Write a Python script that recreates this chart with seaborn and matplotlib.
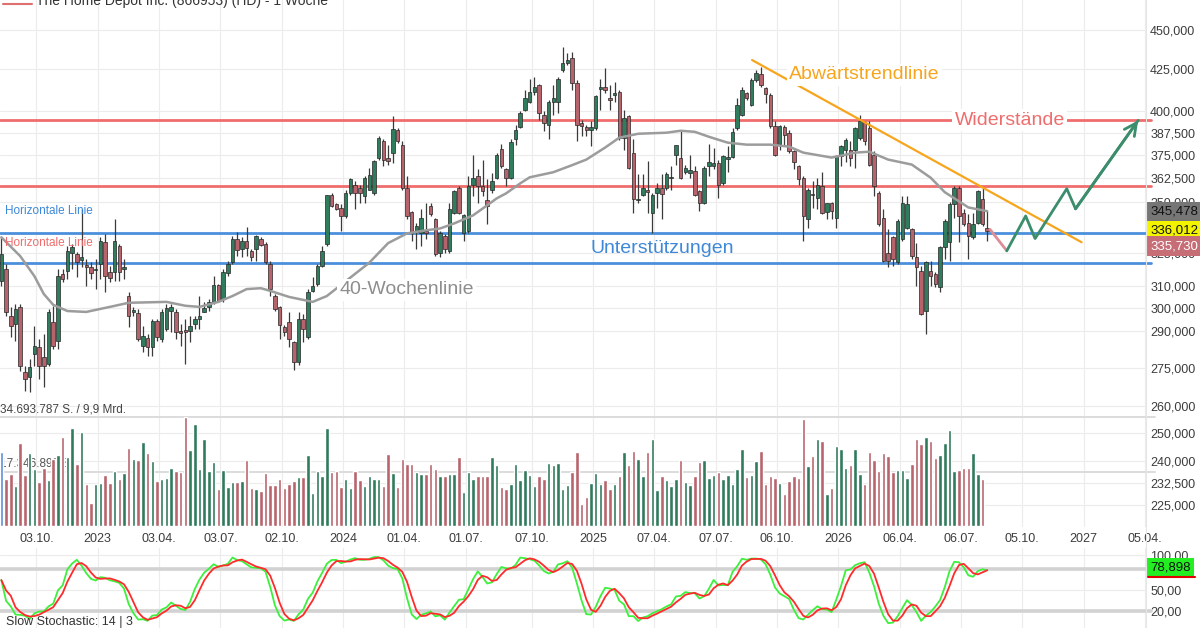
import numpy as np
import pandas as pd
import matplotlib
matplotlib.use('Agg')
import matplotlib.pyplot as plt
import matplotlib.transforms as mtrans
from matplotlib.lines import Line2D
from matplotlib.ticker import NullLocator
import seaborn as sns

sns.set_style('whitegrid')
plt.rcParams['font.family'] = ['Liberation Sans', 'DejaVu Sans']

# weekly candles of Home Depot, one per week (plotted on the Friday)
first_week = '2022-08-12'

opens = [312.0, 317.5, 296.6, 293.1, 300.5, 273.4, 271.4, 280.6, 283.5, 279.4,
         276.6, 294.0, 286.0, 315.2, 316.6, 325.0, 324.5, 322.0, 319.5, 318.4,
         317.0, 319.8, 330.2, 316.1, 316.1, 328.3, 317.6, 305.3, 298.2, 297.9,
         283.9, 287.2, 283.5, 294.4, 286.8, 291.0, 298.7, 298.3, 290.1, 290.5,
         290.1, 293.1, 295.3, 298.3, 300.5, 302.7, 310.3, 304.0, 315.7, 320.8,
         331.7, 326.9, 330.7, 326.1, 326.9, 331.7, 329.3, 319.8, 305.5, 300.3,
         291.8, 293.9, 285.4, 277.3, 295.3, 287.5, 307.6, 310.8, 319.0, 329.3,
         354.0, 349.0, 347.3, 343.1, 354.9, 359.2, 357.5, 353.3, 356.6, 354.9,
         373.4, 382.6, 373.4, 376.2, 388.7, 380.7, 357.5, 345.0, 335.2, 334.9,
         335.6, 348.1, 341.4, 325.3, 333.3, 326.1, 344.7, 357.5, 334.9, 335.7,
         359.2, 363.7, 358.4, 351.4, 356.6, 362.8, 378.5, 367.2, 362.8, 383.9,
         390.9, 400.6, 405.4, 411.3, 415.4, 397.6, 392.0, 405.4, 405.4, 424.5,
         428.6, 431.7, 416.4, 392.9, 390.4, 388.7, 390.0, 412.8, 414.0, 407.5,
         409.5, 411.3, 384.4, 396.8, 376.2, 351.1, 354.0, 356.2, 344.7, 354.9,
         357.5, 357.5, 362.4, 375.2, 373.4, 365.7, 365.2, 366.4, 355.7, 349.9,
         369.3, 369.3, 370.7, 360.1, 372.9, 374.1, 390.2, 397.6, 410.6, 403.5,
         418.4, 421.9, 413.4, 409.4, 391.1, 381.1, 390.4, 387.4, 377.1, 369.3,
         362.8, 341.4, 354.5, 352.4, 358.4, 345.0, 349.4, 342.2, 374.3, 378.0,
         378.0, 378.0, 384.4, 393.4, 390.0, 375.2, 354.9, 342.2, 325.3, 332.5,
         320.7, 331.7, 337.3, 336.5, 323.0, 316.7, 298.9, 316.7, 315.2, 309.2,
         327.7, 330.2, 349.0, 357.5, 344.7, 339.8, 332.5, 339.8, 351.5, 337.3]

highs = [332.6, 319.8, 300.5, 301.8, 301.8, 275.8, 278.6, 292.3, 286.8, 288.9,
         299.6, 300.9, 317.5, 317.5, 328.3, 329.3, 325.5, 346.4, 322.2, 320.8,
         322.2, 332.6, 334.1, 318.9, 341.4, 329.3, 322.2, 307.1, 300.5, 299.6,
         292.3, 288.9, 295.3, 295.3, 299.6, 301.8, 301.8, 299.6, 293.1, 295.3,
         296.6, 296.6, 305.3, 302.7, 304.0, 314.3, 310.8, 317.5, 321.3, 333.1,
         335.0, 332.6, 337.5, 326.9, 333.6, 332.6, 330.2, 321.4, 306.2, 301.0,
         292.5, 298.2, 286.1, 298.2, 297.5, 308.4, 313.7, 319.8, 328.5, 354.0,
         354.9, 349.9, 349.0, 356.6, 362.8, 361.0, 359.2, 363.7, 368.0, 372.5,
         385.3, 383.9, 380.7, 396.8, 390.0, 382.6, 363.7, 345.5, 339.8, 346.4,
         349.9, 349.9, 342.2, 335.7, 334.1, 349.9, 356.6, 358.4, 343.9, 363.7,
         375.2, 367.2, 372.5, 361.9, 365.4, 376.2, 381.1, 368.1, 383.9, 392.0,
         399.6, 412.4, 419.2, 420.2, 415.8, 399.6, 406.4, 415.4, 420.2, 439.1,
         434.9, 436.0, 418.4, 394.8, 392.0, 393.9, 409.4, 419.2, 425.5, 415.4,
         417.3, 412.4, 400.6, 397.5, 383.9, 364.8, 364.8, 371.6, 354.9, 360.1,
         364.8, 365.7, 368.9, 380.7, 389.1, 369.8, 375.2, 368.9, 356.6, 368.9,
         381.1, 379.1, 372.5, 375.2, 379.9, 390.0, 407.5, 414.3, 411.3, 419.4,
         424.5, 426.5, 414.3, 410.4, 393.9, 392.0, 392.0, 389.1, 378.0, 369.8,
         363.7, 357.5, 361.0, 362.8, 365.7, 349.9, 350.4, 375.2, 380.7, 384.4,
         382.6, 390.9, 397.6, 393.9, 393.9, 377.1, 355.7, 346.4, 336.5, 333.3,
         341.4, 353.3, 353.3, 337.3, 330.0, 319.0, 321.4, 321.4, 316.0, 328.5,
         341.4, 350.4, 358.4, 358.4, 346.4, 343.9, 344.7, 356.6, 357.5, 345.5]

lows = [309.8, 296.6, 287.6, 286.0, 273.8, 265.9, 265.5, 275.8, 270.6, 267.5,
        275.8, 282.7, 282.7, 311.5, 312.9, 317.5, 313.8, 318.4, 309.8, 312.9,
        308.4, 312.9, 307.1, 311.5, 312.0, 312.0, 312.9, 291.9, 296.6, 286.0,
        281.5, 279.8, 279.8, 286.0, 285.6, 290.1, 289.7, 286.8, 283.9, 276.6,
        285.6, 291.0, 291.0, 298.3, 298.7, 301.8, 302.7, 302.7, 314.3, 319.8,
        323.6, 323.1, 323.6, 321.4, 321.4, 328.5, 319.8, 305.5, 298.9, 286.8,
        288.2, 283.4, 273.9, 275.9, 285.4, 286.8, 306.9, 309.9, 318.3, 328.5,
        347.8, 346.1, 335.7, 342.2, 354.0, 346.4, 349.9, 349.9, 356.6, 354.0,
        372.5, 368.9, 369.8, 370.7, 381.7, 356.6, 341.4, 330.9, 326.9, 328.5,
        331.7, 343.1, 323.7, 323.0, 325.3, 325.3, 343.9, 343.9, 330.9, 334.9,
        353.3, 349.9, 353.3, 338.9, 354.9, 361.9, 368.1, 358.4, 361.9, 380.7,
        390.0, 399.6, 404.4, 409.4, 394.8, 388.1, 383.9, 397.6, 398.6, 423.5,
        427.6, 412.4, 382.6, 385.3, 385.3, 379.9, 389.1, 400.6, 410.4, 400.6,
        405.4, 383.5, 378.0, 367.5, 344.7, 349.9, 353.3, 344.7, 334.9, 347.3,
        341.4, 356.6, 356.6, 369.8, 362.0, 364.8, 362.8, 353.3, 345.5, 349.0,
        363.7, 367.2, 352.4, 359.2, 365.7, 373.4, 389.1, 396.8, 406.4, 402.5,
        417.4, 414.3, 404.4, 390.0, 374.3, 378.0, 379.9, 376.2, 367.2, 359.2,
        330.9, 337.3, 347.3, 346.4, 343.9, 341.4, 341.4, 337.3, 368.9, 371.0,
        368.9, 368.1, 383.5, 380.7, 368.9, 353.3, 338.1, 320.7, 318.3, 319.0,
        319.8, 330.9, 336.5, 322.2, 309.9, 296.8, 288.9, 309.9, 309.2, 306.9,
        322.2, 321.4, 342.2, 330.2, 338.1, 322.2, 331.7, 338.9, 338.1, 330.9]

closes = [324.5, 298.3, 292.3, 299.6, 275.8, 270.6, 275.4, 283.9, 275.8, 275.8,
          298.3, 283.9, 314.3, 312.9, 326.0, 327.9, 320.8, 323.0, 318.5, 315.7,
          317.8, 330.7, 314.3, 313.4, 330.7, 316.1, 318.4, 296.6, 299.0, 286.8,
          288.1, 283.5, 294.4, 287.6, 298.3, 300.0, 300.5, 289.7, 289.3, 289.7,
          292.3, 295.3, 296.6, 300.0, 302.7, 310.3, 303.1, 316.1, 319.8, 331.7,
          326.4, 330.7, 327.4, 323.0, 333.3, 328.8, 320.7, 308.4, 299.6, 292.5,
          289.6, 286.8, 277.3, 295.3, 291.0, 306.9, 309.9, 319.0, 326.1, 353.6,
          348.1, 346.4, 343.1, 354.9, 361.9, 354.9, 354.9, 362.8, 364.0, 371.6,
          384.4, 372.5, 371.6, 389.5, 382.6, 357.5, 343.1, 334.9, 338.1, 342.2,
          334.9, 343.9, 324.5, 334.9, 326.9, 346.4, 355.7, 344.7, 343.4, 358.4,
          362.8, 358.4, 355.7, 348.1, 361.0, 375.2, 368.8, 362.8, 381.9, 389.1,
          398.6, 407.5, 411.3, 414.3, 398.6, 392.9, 405.4, 407.5, 419.2, 428.6,
          430.7, 416.4, 392.0, 391.3, 389.1, 390.4, 408.5, 414.0, 412.0, 406.5,
          410.3, 384.4, 395.8, 368.1, 351.5, 351.5, 357.5, 355.2, 354.0, 357.5,
          354.5, 364.8, 363.2, 380.3, 362.8, 368.1, 366.7, 354.0, 349.9, 368.1,
          371.1, 370.7, 359.2, 374.3, 373.9, 387.6, 403.5, 412.4, 407.5, 418.4,
          422.5, 415.4, 410.0, 391.1, 375.2, 391.3, 386.3, 377.1, 371.0, 361.9,
          343.1, 356.6, 353.6, 359.2, 344.7, 349.4, 345.5, 374.3, 379.9, 383.5,
          373.4, 390.0, 393.9, 382.6, 369.8, 358.4, 338.9, 321.4, 321.4, 322.2,
          340.6, 349.9, 349.0, 323.7, 318.3, 297.5, 320.7, 314.5, 310.8, 327.7,
          340.6, 349.0, 357.5, 343.1, 338.9, 333.3, 338.9, 355.7, 338.9, 335.7]

# weekly volume in million shares
volume_mio = [23.7, 15.0, 16.6, 12.7, 26.3, 16.2, 23.1, 18.0, 13.9, 18.4,
              14.6, 21.2, 22.6, 28.2, 22.1, 31.1, 19.7, 30.0, 13.4, 7.2,
              13.4, 13.8, 16.1, 13.8, 17.5, 14.9, 16.8, 24.9, 21.2, 21.0,
              26.7, 23.3, 20.8, 14.3, 14.9, 15.4, 18.4, 17.5, 17.3, 34.8,
              24.2, 32.5, 18.0, 27.7, 17.6, 20.5, 11.9, 17.8, 12.5, 13.9,
              14.1, 14.3, 21.0, 12.2, 11.7, 11.1, 16.8, 13.1, 13.1, 14.9,
              12.0, 13.4, 14.3, 15.7, 15.7, 22.6, 10.6, 17.5, 15.9, 31.1,
              17.3, 17.6, 12.5, 14.9, 12.0, 17.6, 14.6, 12.8, 15.9, 14.9,
              14.9, 12.7, 22.8, 17.0, 12.3, 21.4, 19.8, 19.8, 17.2, 16.4,
              16.7, 19.8, 18.2, 15.8, 15.9, 16.7, 16.7, 22.0, 10.8, 17.2,
              15.1, 15.8, 15.9, 15.9, 22.0, 19.3, 12.4, 11.9, 13.3, 19.8,
              14.7, 17.7, 16.3, 12.6, 15.8, 15.1, 20.2, 19.5, 20.2, 11.7,
              12.9, 17.2, 23.6, 7.0, 9.2, 13.8, 17.0, 13.5, 14.7, 11.9,
              13.5, 15.8, 23.6, 19.5, 23.8, 21.4, 15.9, 23.6, 27.8, 11.6,
              15.8, 14.5, 12.6, 15.1, 20.9, 14.0, 12.9, 15.8, 20.4, 20.9,
              15.4, 16.1, 17.2, 15.1, 16.1, 13.5, 18.2, 24.6, 15.6, 16.1,
              20.6, 23.9, 13.5, 15.9, 15.3, 13.8, 10.3, 14.3, 15.9, 15.3,
              34.0, 19.0, 22.3, 27.6, 26.9, 10.3, 12.2, 25.4, 24.6, 18.6,
              19.3, 24.6, 16.7, 13.5, 23.6, 20.9, 17.5, 23.3, 22.2, 17.2,
              17.9, 17.7, 15.3, 19.8, 27.8, 26.2, 28.3, 26.9, 21.8, 22.5,
              26.5, 30.7, 17.5, 17.7, 18.6, 18.6, 23.2, 16.4, 15.1, 0.0]

# 40-week line (week index, price)
sma_week = [0, 4, 7, 9, 11, 14, 18, 23, 27, 35, 39, 42, 46, 49, 52, 55, 57, 61,
            66, 69, 78, 82, 86, 90, 93, 96, 100, 103, 105, 107, 110, 112, 117,
            121, 124, 128, 131, 135, 141, 144, 147, 150, 154, 158, 163, 167,
            170, 176, 181, 184, 188, 193, 197, 200, 203, 205, 209]
sma_price = [332.6, 323.6, 314.3, 306.2, 301.4, 298.7, 298.3, 300.5, 302.3,
             302.7, 301.0, 300.5, 302.7, 305.3, 308.4, 308.8, 307.6, 304.9,
             302.7, 305.3, 320.5, 329.8, 334.5, 336.0, 336.9, 339.4, 343.4,
             348.5, 352.0, 354.6, 359.8, 363.0, 365.7, 369.5, 372.5, 379.1,
             384.6, 386.8, 387.4, 388.5, 387.9, 385.1, 381.8, 380.7, 380.7,
             379.6, 376.3, 373.6, 376.3, 376.8, 372.5, 369.8, 362.8, 355.2,
             350.5, 347.4, 345.5]

resistance_levels = [394.8, 358.5]
support_levels = [334.8, 320.5]

trend_dates = ['2025-08-30', '2027-01-01']
trend_prices = [430.7, 330.2]

proj_dates = ['2026-08-18', '2026-09-12', '2026-10-10', '2026-10-24',
              '2026-12-10', '2026-12-23', '2027-03-26']
proj_prices = [336.5, 326.1, 343.1, 332.0, 357.0, 346.7, 394.4]

price_ticks = [450, 425, 400, 387.5, 375, 362.5, 350, 325, 310, 300, 290,
               275, 260, 250, 240, 232.5, 225]
date_ticks = ['2022-10-03', '2023-01-02', '2023-04-03', '2023-07-03',
              '2023-10-02', '2024-01-01', '2024-04-01', '2024-07-01',
              '2024-10-07', '2025-01-06', '2025-04-07', '2025-07-07',
              '2025-10-06', '2026-01-05', '2026-04-06', '2026-07-06',
              '2026-10-05', '2027-01-04', '2027-04-05']
date_labels = ['03.10.', '2023', '03.04.', '03.07.', '02.10.', '2024',
               '01.04.', '01.07.', '07.10.', '2025', '07.04.', '07.07.',
               '06.10.', '2026', '06.04.', '06.07.', '05.10.', '2027', '05.04.']

sma_last, price_last, close_last, stoch_last = 345.478, 336.012, 335.730, 78.898

GREEN = '#2f7d5c'
RED = '#b7636c'
LINE_RED = '#ef6d6d'
LINE_BLUE = '#4b8fdc'
ORANGE = '#f8a51e'
GRID = '#ececec'

dates = pd.date_range(first_week, periods=len(closes), freq='7D')
df = pd.DataFrame({'open': opens, 'high': highs, 'low': lows,
                   'close': closes, 'volume': volume_mio}, index=dates)
up = df['close'] >= df['open']

# slow stochastic 14 | 3
ll = df['low'].rolling(14, min_periods=1).min()
hh = df['high'].rolling(14, min_periods=1).max()
fast_k = 100 * (df['close'] - ll) / (hh - ll)
slow_k = fast_k.rolling(3, min_periods=1).mean()
slow_d = slow_k.rolling(3, min_periods=1).mean()

W, H = 1200, 628
AXW = 1146 / W
fig = plt.figure(figsize=(12, 6.28), dpi=100)
ax = fig.add_axes([0, 101 / H, AXW, 527 / H])
ax_vol = fig.add_axes([0, 102 / H, AXW, 109 / H], sharex=ax)
ax_st = fig.add_axes([0, 0, AXW, 80 / H], sharex=ax)

# ---- price panel
ax.set_yscale('log')
ax.set_ylim(218.0, 470.1)
ax.yaxis.set_minor_locator(NullLocator())
ax.set_yticks(price_ticks)
ax.set_yticklabels([f'{v:.3f}'.replace('.', ',') for v in price_ticks])
ax.yaxis.tick_right()
ax.tick_params(axis='y', length=0, pad=3, labelsize=9, labelcolor='#3c3c3c')
ax.set_xticks(pd.to_datetime(date_ticks))
ax.set_xticklabels(date_labels)
ax.tick_params(axis='x', length=0, pad=4, labelsize=9, labelcolor='#3c3c3c')
ax.set_xlim(pd.Timestamp('2022-08-10'), pd.Timestamp('2027-04-06 14:00'))
ax.grid(True, color=GRID, lw=0.8)
for s in ax.spines.values():
    s.set_visible(False)

ax.vlines(df.index, df['low'], df['high'], color='#3a3a3a', lw=0.9, zorder=3)
body = (df['close'] - df['open']).abs().clip(lower=0.5)
ax.bar(df.index, body, bottom=df[['open', 'close']].min(axis=1), width=5.2,
       color=np.where(up, GREEN, RED), edgecolor='#262626', linewidth=0.5, zorder=4)

sns.lineplot(x=dates[sma_week], y=sma_price, ax=ax, color='#9c9c9c', lw=1.8,
             zorder=5)

blend = mtrans.blended_transform_factory(ax.transAxes, ax.transData)
for lvl in resistance_levels:
    ax.plot([0, 1.004], [lvl, lvl], transform=blend, color=LINE_RED, lw=2,
            clip_on=False, zorder=2)
for lvl in support_levels:
    ax.plot([0, 1.004], [lvl, lvl], transform=blend, color=LINE_BLUE, lw=2,
            clip_on=False, zorder=2)

sns.lineplot(x=pd.to_datetime(trend_dates), y=trend_prices, ax=ax,
             color=ORANGE, lw=1.6, zorder=6)

pdates = pd.to_datetime(proj_dates)
sns.lineplot(x=pdates[:2], y=proj_prices[:2], ax=ax, color='#dd8e97', lw=2,
             sort=False, zorder=6)
sns.lineplot(x=pdates[1:], y=proj_prices[1:], ax=ax, color='#3b8d6b', lw=2,
             sort=False, zorder=6)
ax.annotate('', xy=(pdates[-1], proj_prices[-1]),
            xytext=(pdates[-2], proj_prices[-2]),
            arrowprops=dict(arrowstyle='->', color='#3b8d6b', lw=2,
                            mutation_scale=22, shrinkA=0, shrinkB=0), zorder=6)

white_box = dict(boxstyle='square,pad=0.12', fc='white', ec='none')
ax.text(0.754, 0.858, 'Abwärtstrendlinie', transform=ax.transAxes, ha='center',
        va='center', fontsize=14, color=ORANGE, bbox=white_box, zorder=7)
ax.text(0.881, 0.772, 'Widerstände', transform=ax.transAxes, ha='center',
        va='center', fontsize=14, color=LINE_RED, bbox=white_box, zorder=7)
ax.text(0.578, 0.529, 'Unterstützungen', transform=ax.transAxes, ha='center',
        va='center', fontsize=14, color='#3f88d8', zorder=7)
ax.text(0.355, 0.450, '40-Wochenlinie', transform=ax.transAxes, ha='center',
        va='center', fontsize=14, color='#8e8e8e', bbox=white_box, zorder=7)
ax.text(0.004, 0.600, 'Horizontale Linie', transform=ax.transAxes, ha='left',
        va='center', fontsize=8.5, color='#3f88d8', zorder=7)
ax.text(0.004, 0.539, 'Horizontale Linie', transform=ax.transAxes, ha='left',
        va='center', fontsize=8.5, color=LINE_RED, zorder=7)


def tag(axis, value, text, face, fg, dy=0):
    axis.annotate(text, xy=(1.0, value), xycoords=('axes fraction', 'data'),
                  xytext=(3, dy), textcoords='offset points', ha='left',
                  va='center', fontsize=9.5, color=fg, annotation_clip=False,
                  bbox=dict(boxstyle='square,pad=0.28', fc=face, ec='none'),
                  zorder=10)


tag(ax, sma_last, f'{sma_last:.3f}'.replace('.', ','), '#767676', '#111111')
tag(ax, price_last, f'{price_last:.3f}'.replace('.', ','), '#f4f400', '#111111')
tag(ax, close_last, f'{close_last:.3f}'.replace('.', ','), '#c76d76', 'white', dy=-11)

# ---- volume panel (overlay)
ax_vol.patch.set_visible(False)
ax_vol.set_ylim(0, 34.69)
ax_vol.grid(False)
for s in ax_vol.spines.values():
    s.set_visible(False)
ax_vol.tick_params(labelbottom=False, labelleft=False, left=False, bottom=False)
ax_vol.set_yticks([])
vcol = np.where(up, '#2f7b5c', '#b9646d').astype(object)
vcol[0] = '#5b8ed8'
ax_vol.bar(df.index, df['volume'], width=5.2, color=list(vcol), zorder=2)
vblend = mtrans.blended_transform_factory(ax_vol.transAxes, ax_vol.transData)
vmax = 34.69
for lvl in [vmax, vmax / 2]:
    ax_vol.plot([0, 1.008], [lvl, lvl], transform=vblend, color='#dcdcdc',
                lw=1.4, clip_on=False, zorder=1)
ax_vol.text(0.0, vmax + 0.6, '34.693.787 S. / 9,9 Mrd.', transform=vblend,
            ha='left', va='bottom', fontsize=8.5, color='#444444', zorder=1)
ax_vol.text(0.0, vmax / 2 + 0.6, '17.346.893 S.', transform=vblend,
            ha='left', va='bottom', fontsize=8.5, color='#555555', zorder=1)

# ---- stochastic panel
ax_st.set_ylim(-4.5, 110.6)
ax_st.set_yticks([100, 50, 20])
ax_st.set_yticklabels(['100,00', '50,00', '20,00'])
ax_st.yaxis.tick_right()
ax_st.tick_params(axis='y', length=0, pad=3, labelsize=9, labelcolor='#3c3c3c')
ax_st.tick_params(axis='x', labelbottom=False, length=0)
ax_st.grid(True, color=GRID, lw=0.8)
for s in ax_st.spines.values():
    s.set_visible(False)
sblend = mtrans.blended_transform_factory(ax_st.transAxes, ax_st.transData)
for lvl in [80, 20]:
    ax_st.plot([0, 1.004], [lvl, lvl], transform=sblend, color='#d2d2d2',
               lw=2.6, clip_on=False, zorder=1)
sns.lineplot(x=df.index, y=slow_k.values, ax=ax_st, color='#3cf03c', lw=1.3,
             zorder=3)
sns.lineplot(x=df.index, y=slow_d.values, ax=ax_st, color='#ff2b2b', lw=1.3,
             zorder=4)
ax_st.set_ylabel('')
ax_st.text(0.005, 0.07, 'Slow Stochastic: 14 | 3', transform=ax_st.transAxes,
           ha='left', va='center', fontsize=9, color='#333333')
tag(ax_st, stoch_last, f'{stoch_last:.3f}'.replace('.', ','), '#22ee22',
    '#111111', dy=2)
fig.add_artist(Line2D([1148 / W, 1195 / W], [(H - 577) / H] * 2,
                      color='#e00000', lw=1.5))

ax.set_xlabel('')
ax.set_ylabel('')

# ---- header and separator
fig.add_artist(Line2D([3 / W, 32 / W], [1 - 4 / H] * 2, color='#e07070', lw=1.5))
fig.text(36 / W, 1 - 5 / H, 'The Home Depot Inc. (866953) (HD) - 1 Woche',
         ha='left', va='baseline', fontsize=10, color='#333333')
fig.add_artist(Line2D([1146 / W] * 2, [0, 1], color='#e6e6e6', lw=0.8))

fig.savefig('out.png', dpi=100)
